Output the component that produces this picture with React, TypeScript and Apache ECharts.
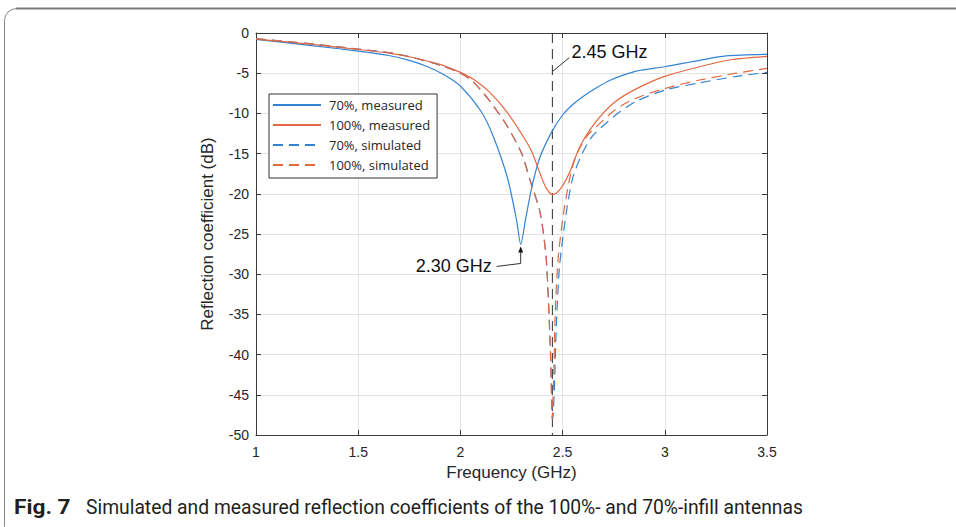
import React, { useEffect, useRef } from "react";
import * as echarts from "echarts";

// ---- data ----
const FREQ_70_MEAS = [1.0, 1.25, 1.5, 1.65, 1.75, 1.84, 1.92, 2.0, 2.1, 2.16, 2.23, 2.275, 2.295, 2.32, 2.35, 2.39, 2.447, 2.5, 2.55, 2.6, 2.66, 2.73, 2.86, 3.0, 3.17, 3.3, 3.5];
const DB_70_MEAS = [-0.8, -1.5, -2.25, -2.8, -3.4, -4.2, -5.2, -6.6, -9.7, -12.8, -18.0, -23.3, -26.3, -23.0, -19.1, -15.4, -12.3, -10.2, -8.9, -7.9, -6.9, -5.9, -4.75, -4.2, -3.4, -2.85, -2.65];

const FREQ_100_MEAS = [1.0, 1.25, 1.5, 1.65, 1.75, 1.9, 2.0, 2.06, 2.14, 2.227, 2.308, 2.35, 2.39, 2.42, 2.45, 2.47, 2.5, 2.54, 2.56, 2.6, 2.68, 2.77, 2.88, 3.0, 3.17, 3.33, 3.5];
const DB_100_MEAS = [-0.75, -1.35, -2.05, -2.5, -2.95, -3.9, -4.9, -5.7, -7.3, -9.8, -12.9, -14.8, -17.5, -19.3, -20.1, -19.9, -19.0, -17.0, -15.6, -13.4, -10.5, -8.3, -6.7, -5.4, -4.2, -3.3, -2.9];

const FREQ_70_SIM = [1.0, 1.25, 1.5, 1.65, 1.75, 1.9, 2.0, 2.06, 2.145, 2.227, 2.3, 2.34, 2.39, 2.42, 2.44, 2.452, 2.46, 2.47, 2.485, 2.52, 2.55, 2.59, 2.64, 2.7, 2.78, 2.86, 3.0, 3.17, 3.35, 3.5];
const DB_70_SIM = [-0.7, -1.3, -2.0, -2.45, -2.95, -4.0, -5.0, -6.0, -8.5, -11.5, -15.0, -18.2, -22.3, -28.0, -39.0, -48.0, -44.0, -36.0, -29.0, -22.0, -18.0, -15.3, -13.0, -11.5, -9.8, -8.5, -7.1, -6.2, -5.4, -4.9];

const FREQ_100_SIM = [1.0, 1.25, 1.5, 1.65, 1.75, 1.9, 2.0, 2.06, 2.145, 2.227, 2.3, 2.34, 2.39, 2.42, 2.44, 2.449, 2.456, 2.465, 2.48, 2.51, 2.54, 2.57, 2.62, 2.68, 2.76, 2.85, 3.0, 3.17, 3.35, 3.5];
const DB_100_SIM = [-0.7, -1.3, -2.0, -2.45, -2.95, -4.0, -5.0, -6.0, -8.5, -11.5, -15.0, -18.3, -22.4, -28.2, -39.5, -48.0, -43.0, -34.0, -27.5, -21.5, -17.5, -15.0, -12.8, -11.3, -9.5, -8.2, -6.9, -5.85, -5.0, -4.4];

const MARKER_FREQ = 2.45;
const MARKER_LINE_DB = [0, -50];
const PEAK_70 = [2.295, -26.3];
const MARKER_LABEL_DB = -4.8;

const X_MIN = 1, X_MAX = 3.5, X_INTERVAL = 0.5;
const Y_MIN = -50, Y_MAX = 0, Y_INTERVAL = 5;

const SERIES_NAMES = ["70%, measured", "100%, measured", "70%, simulated", "100%, simulated"];
const LABEL_245 = "2.45 GHz";
const LABEL_230 = "2.30 GHz";
const CAPTION_BOLD = "Fig. 7";
const CAPTION_TEXT = "Simulated and measured reflection coefficients of the 100%- and 70%-infill antennas";

const BLUE = "#3283d4";
const RED = "#e4673f";

const zip = (xs: number[], ys: number[]) => xs.map((x, i) => [x, ys[i]]);

export default function App() {
  const ref = useRef<HTMLDivElement>(null);

  useEffect(() => {
    if (!ref.current) return;
    const chart = echarts.init(ref.current, null, { renderer: "svg" });
    const axisFont = "Liberation Sans, Arial, sans-serif";
    const axisLineColor = "#3a3a3a";
    const common = {
      type: "line",
      showSymbol: false,
      symbol: "none",
      smooth: 0.25,
      silent: true,
    };
    const xBase = {
      type: "value",
      min: X_MIN,
      max: X_MAX,
      interval: X_INTERVAL,
      axisLine: { show: true, onZero: false, lineStyle: { color: axisLineColor, width: 1 } },
      axisTick: { show: true, inside: true, length: 5, lineStyle: { color: axisLineColor } },
    };
    const yBase = {
      type: "value",
      min: Y_MIN,
      max: Y_MAX,
      interval: Y_INTERVAL,
      axisLine: { show: true, onZero: false, lineStyle: { color: axisLineColor, width: 1 } },
      axisTick: { show: true, inside: true, length: 5, lineStyle: { color: axisLineColor } },
    };
    chart.setOption({
      animation: false,
      backgroundColor: "#ffffff",
      grid: { left: 256, right: 189, top: 33, bottom: 92, containLabel: false },
      xAxis: [
        {
          ...xBase,
          position: "bottom",
          name: "Frequency (GHz)",
          nameLocation: "middle",
          nameGap: 27,
          nameTextStyle: { fontFamily: axisFont, fontSize: 17, color: "#262626" },
          axisLabel: { fontFamily: axisFont, fontSize: 14, color: "#262626", margin: 10 },
          splitLine: { show: true, lineStyle: { color: "#e2e2e2", width: 1 } },
        },
        {
          ...xBase,
          position: "top",
          axisLabel: { show: false },
          splitLine: { show: false },
        },
      ],
      yAxis: [
        {
          ...yBase,
          position: "left",
          name: "Reflection coefficient (dB)",
          nameLocation: "middle",
          nameGap: 40,
          nameTextStyle: { fontFamily: axisFont, fontSize: 17, color: "#262626" },
          axisLabel: { fontFamily: axisFont, fontSize: 14, color: "#262626", margin: 7 },
          splitLine: { show: true, lineStyle: { color: "#e2e2e2", width: 1 } },
        },
        {
          ...yBase,
          position: "right",
          axisLabel: { show: false },
          splitLine: { show: false },
        },
      ],
      legend: {
        data: SERIES_NAMES,
        orient: "vertical",
        left: 269,
        top: 94,
        padding: [3, 7, 5, 3],
        itemWidth: 48,
        itemHeight: 12,
        itemGap: 4,
        backgroundColor: "#ffffff",
        borderColor: "#333333",
        borderWidth: 1,
        borderRadius: 0,
        selectedMode: false,
        itemStyle: { opacity: 0 },
        textStyle: { fontFamily: "Open Sans, sans-serif", fontSize: 13, color: "#262626", lineHeight: 16, padding: [0, 0, 0, 3] },
      },
      series: [
        {
          ...common,
          name: SERIES_NAMES[0],
          data: zip(FREQ_70_MEAS, DB_70_MEAS),
          lineStyle: { color: BLUE, width: 1.2 },
          itemStyle: { color: BLUE },
        },
        {
          ...common,
          name: SERIES_NAMES[1],
          data: zip(FREQ_100_MEAS, DB_100_MEAS),
          lineStyle: { color: RED, width: 1.2 },
          itemStyle: { color: RED },
        },
        {
          ...common,
          name: SERIES_NAMES[2],
          data: zip(FREQ_70_SIM, DB_70_SIM),
          lineStyle: { color: BLUE, width: 1.2, type: [10, 6] },
          itemStyle: { color: BLUE },
        },
        {
          ...common,
          name: SERIES_NAMES[3],
          data: zip(FREQ_100_SIM, DB_100_SIM),
          lineStyle: { color: RED, width: 1.2, type: [10, 6] },
          itemStyle: { color: RED },
        },
        {
          ...common,
          smooth: false,
          name: "marker",
          data: MARKER_LINE_DB.map((v) => [MARKER_FREQ, v]),
          lineStyle: { color: "#333333", width: 1, type: [10, 6] },
          itemStyle: { color: "#333333" },
          z: 1,
        },
      ],
    });

    const peak = chart.convertToPixel({ gridIndex: 0 }, PEAK_70) as number[];
    const mark = chart.convertToPixel({ gridIndex: 0 }, [MARKER_FREQ, MARKER_LABEL_DB]) as number[];
    const annFont = "18px Liberation Sans, Arial, sans-serif";

    chart.setOption({
      graphic: [
        // figure frame
        {
          type: "rect",
          shape: { x: 4.5, y: 8.5, width: 1000, height: 530, r: 12 },
          style: { fill: "none", stroke: "#8a8a8a", lineWidth: 1 },
          silent: true,
        },
        {
          type: "line",
          shape: { x1: 16, y1: 8.5, x2: 956, y2: 8.5 },
          style: { stroke: "#7a7a7a", lineWidth: 2 },
          silent: true,
        },
        // 2.45 GHz annotation
        {
          type: "line",
          shape: { x1: mark[0], y1: mark[1], x2: mark[0] + 17, y2: mark[1] - 14 },
          style: { stroke: "#333", lineWidth: 1 },
          silent: true,
        },
        {
          type: "text",
          x: mark[0] + 19,
          y: mark[1] - 20,
          style: { text: LABEL_245, font: annFont, fill: "#111", textAlign: "left", textVerticalAlign: "middle" },
          silent: true,
        },
        // 2.30 GHz annotation
        {
          type: "polyline",
          shape: {
            points: [
              [peak[0] - 24, peak[1] + 22],
              [peak[0], peak[1] + 19],
              [peak[0], peak[1] + 6],
            ],
          },
          style: { stroke: "#333", lineWidth: 1, fill: "none" },
          silent: true,
        },
        {
          type: "polygon",
          shape: {
            points: [
              [peak[0], peak[1] + 2],
              [peak[0] - 2.5, peak[1] + 8],
              [peak[0] + 2.5, peak[1] + 8],
            ],
          },
          style: { fill: "#111", stroke: "none" },
          silent: true,
        },
        {
          type: "text",
          x: peak[0] - 29,
          y: peak[1] + 22,
          style: { text: LABEL_230, font: annFont, fill: "#111", textAlign: "right", textVerticalAlign: "middle" },
          silent: true,
        },
        // caption
        {
          type: "text",
          x: 14,
          y: 507,
          scaleX: 1.08,
          style: { text: CAPTION_BOLD, font: "bold 21px Roboto, sans-serif", fill: "#231f20", textAlign: "left", textVerticalAlign: "middle" },
          silent: true,
        },
        {
          type: "text",
          x: 86,
          y: 507,
          scaleX: 0.965,
          style: { text: CAPTION_TEXT, font: "20px Roboto, sans-serif", fill: "#231f20", textAlign: "left", textVerticalAlign: "middle" },
          silent: true,
        },
      ],
    });

    return () => chart.dispose();
  }, []);

  return (
    <div
      ref={ref}
      style={{ position: "fixed", left: 0, top: 0, width: 956, height: 527, background: "#fff" }}
    />
  );
}
